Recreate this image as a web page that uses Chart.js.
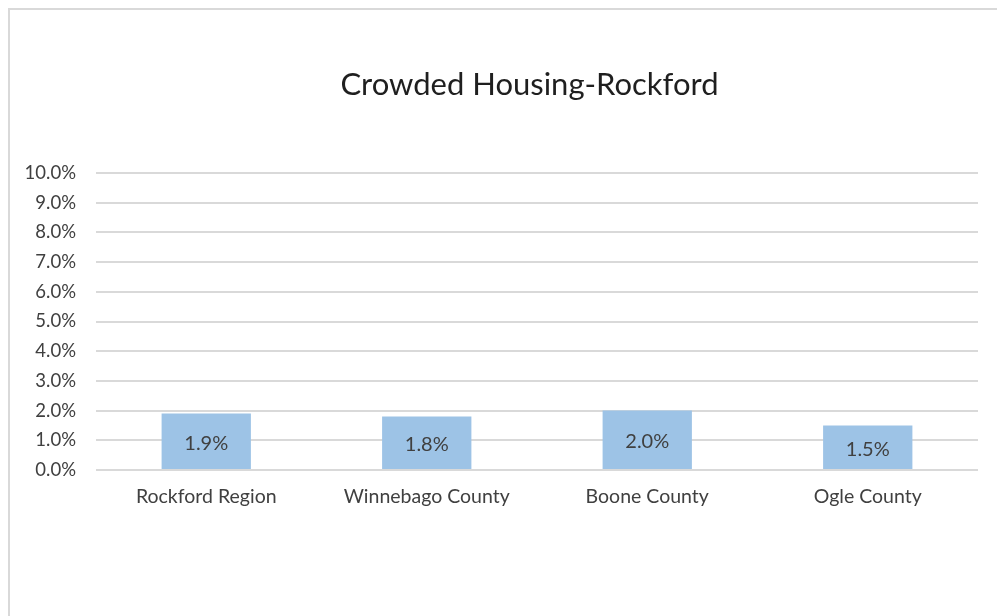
<!DOCTYPE html>
<html>
<head>
<meta charset="utf-8">
<script src="https://cdn.jsdelivr.net/npm/chart.js@4/dist/chart.umd.min.js"></script>
<style>
    html, body { margin: 0; padding: 0; background: #ffffff; overflow: hidden; }
    #frame {
        position: absolute;
        left: 0; top: 0;
        width: 997px; height: 616px;
        overflow: hidden;
    }
    #border {
        position: absolute;
        left: 8px; top: 8px;
        width: 1100px; height: 700px;
        border-left: 2px solid #d9d9d9;
        border-top: 2px solid #d9d9d9;
    }
    canvas { position: absolute; left: 0; top: 0; }
</style>
</head>
<body>
<div id="frame">
    <div id="border"></div>
    <canvas id="crowding" width="997" height="616"></canvas>
</div>
<script>
// Share of households with more than one person per room
const regions = ['Rockford Region', 'Winnebago County', 'Boone County', 'Ogle County'];
const crowdedShare = [1.9, 1.8, 2.0, 1.5];
const yTicks = [0, 1, 2, 3, 4, 5, 6, 7, 8, 9, 10];
const chartTitle = 'Crowded Housing-Rockford';

const textColor = '#404040';
const gridColor = '#d9d9d9';
const barColor = '#9dc3e6';
const fontFamily = "Lato, 'Open Sans', sans-serif";

// The chart box runs past the right edge of the page, so the title is
// centred on the box rather than on the canvas.
const boxTitle = {
    id: 'boxTitle',
    afterDraw(chart) {
        const { ctx } = chart;
        ctx.save();
        ctx.fillStyle = '#1f1f1f';
        ctx.font = `31px ${fontFamily}`;
        ctx.textAlign = 'center';
        ctx.textBaseline = 'middle';
        ctx.fillText(chartTitle, 529.5, 85);
        ctx.restore();
    },
};

// Value labels centred inside each bar
const barLabels = {
    id: 'barLabels',
    afterDatasetsDraw(chart) {
        const { ctx } = chart;
        const meta = chart.getDatasetMeta(0);
        ctx.save();
        ctx.fillStyle = textColor;
        ctx.font = `20px ${fontFamily}`;
        ctx.textAlign = 'center';
        ctx.textBaseline = 'middle';
        meta.data.forEach((bar, i) => {
            const mid = (bar.y + bar.base) / 2;
            ctx.fillText(crowdedShare[i].toFixed(1) + '%', bar.x, mid + 2);
        });
        ctx.restore();
    },
};

new Chart(document.getElementById('crowding'), {
    type: 'bar',
    data: {
        labels: regions,
        datasets: [{
            data: crowdedShare,
            backgroundColor: barColor,
            borderWidth: 0,
            categoryPercentage: 1.0,
            barPercentage: 0.405,
        }],
    },
    options: {
        responsive: false,
        animation: false,
        layout: { padding: { left: 0, right: 19, top: 173, bottom: 0 } },
        plugins: {
            legend: { display: false },
            tooltip: { enabled: false },
            title: { display: false },
        },
        scales: {
            x: {
                grid: { display: false, drawTicks: false },
                border: { display: false },
                ticks: {
                    color: textColor,
                    font: { family: fontFamily, size: 19.5 },
                    padding: 15,
                },
                afterFit(scale) { scale.height = 146; },
            },
            y: {
                min: 0,
                max: 10,
                afterBuildTicks(scale) {
                    scale.ticks = yTicks.map((v) => ({ value: v }));
                },
                grid: { color: gridColor, lineWidth: 2, drawTicks: false },
                border: { display: false },
                ticks: {
                    color: textColor,
                    font: { family: fontFamily, size: 18.5 },
                    padding: 20,
                    callback: (v) => v.toFixed(1) + '%',
                },
                afterFit(scale) { scale.width = 96; },
            },
        },
    },
    plugins: [barLabels, boxTitle],
});
</script>
</body>
</html>
